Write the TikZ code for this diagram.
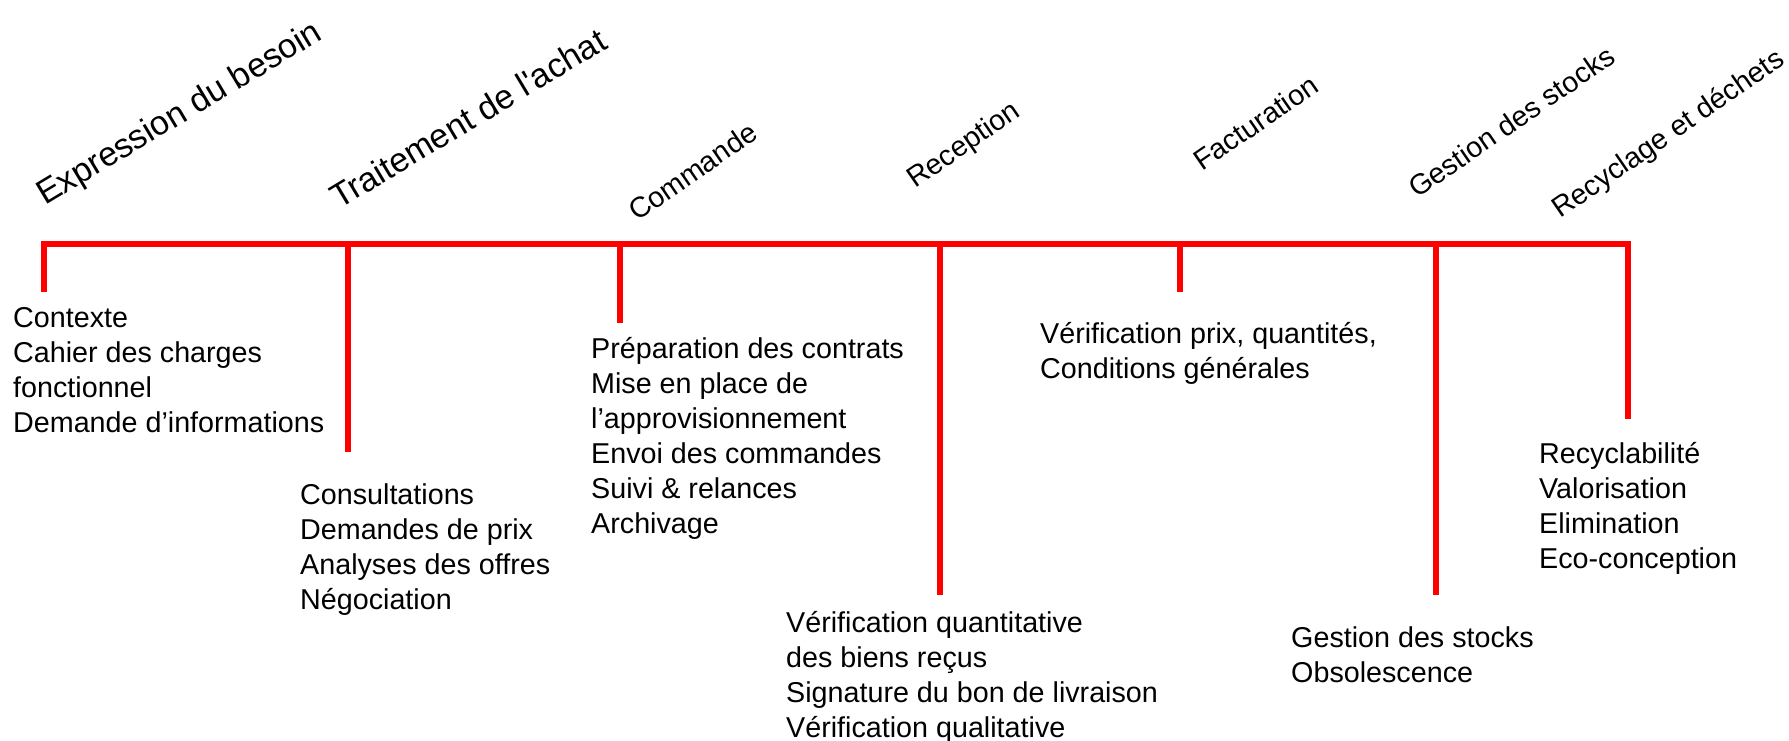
\documentclass[tikz,border=0pt]{standalone}
\usepackage{fontspec}
\setmainfont{Liberation Sans}
\begin{document}
\begin{tikzpicture}[x=1pt,y=-1pt,
  redline/.style={draw=red, line width=5.5pt},
  body/.style={anchor=base west, inner sep=0pt, font=\fontsize{28.7}{35}\selectfont, align=left},
  bigtitle/.style={anchor=base west, inner sep=0pt, rotate=31, font=\fontsize{34}{40}\selectfont},
  smalltitle/.style={anchor=base west, inner sep=0pt, rotate=34.5, font=\fontsize{28.7}{35}\selectfont}]
\useasboundingbox[fill=white] (0,0) rectangle (1789,741);

% timeline coordinates
\coordinate (t1) at (44,244);   \coordinate (b1) at (44,292);
\coordinate (t2) at (348,244);  \coordinate (b2) at (348,452);
\coordinate (t3) at (620,244);  \coordinate (b3) at (620,323);
\coordinate (t4) at (940,244);  \coordinate (b4) at (940,595);
\coordinate (t5) at (1180,244); \coordinate (b5) at (1180,292);
\coordinate (t6) at (1436,244); \coordinate (b6) at (1436,595);
\coordinate (t7) at (1628,244); \coordinate (b7) at (1628,419);

\draw[redline] (b1) -- (t1) -- (t7) -- (b7);
\draw[redline] (t2) -- (b2);
\draw[redline] (t3) -- (b3);
\draw[redline] (t4) -- (b4);
\draw[redline] (t5) -- (b5);
\draw[redline] (t6) -- (b6);

% titles
\node[bigtitle] (h1) at (45,206) {Expression du besoin};
\node[bigtitle] (h2) at (339,210) {Traitement de l\textquotesingle achat};
\node[smalltitle] (h3) at (637,222) {Commande};
\node[smalltitle] (h4) at (915,189) {Reception};
\node[smalltitle] (h5) at (1202,172) {Facturation};
\node[smalltitle] (h6) at (1417,199) {Gestion des stocks};
\node[smalltitle] (h7) at (1560,219) {Recyclage et déchets};

% text blocks (anchored at the baseline of their last line)
\node[body] (x1) at (13,432) {Contexte\\Cahier des charges\\fonctionnel\\Demande d’informations};
\node[body] (x2) at (300,609) {Consultations\\Demandes de prix\\Analyses des offres\\Négociation};
\node[body] (x3) at (591,533) {Préparation des contrats\\Mise en place de\\l’approvisionnement\\Envoi des commandes\\Suivi \& relances\\Archivage};
\node[body] (x4) at (786,737) {Vérification quantitative\\des biens reçus\\Signature du bon de livraison\\Vérification qualitative};
\node[body] (x5) at (1040,378) {Vérification prix, quantités,\\Conditions générales};
\node[body] (x6) at (1291,682) {Gestion des stocks\\Obsolescence};
\node[body] (x7) at (1539,568) {Recyclabilité\\Valorisation\\Elimination\\Eco-conception};
\end{tikzpicture}
\end{document}
